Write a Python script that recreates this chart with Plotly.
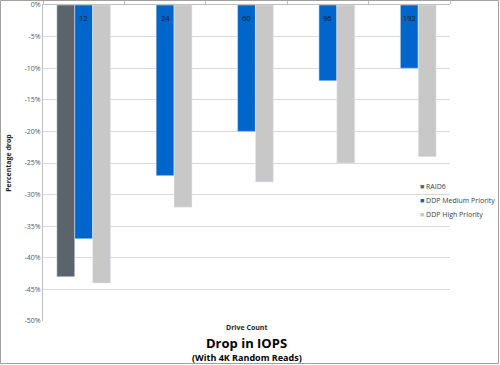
import plotly.graph_objects as go

categories = ["12", "24", "60", "96", "192"]
raid6 = [-43, None, None, None, None]
ddp_medium = [-37, -27, -20, -12, -10]
ddp_high = [-44, -32, -28, -25, -24]
series_names = ["RAID6", "DDP Medium Priority", "DDP High Priority"]
series_colors = ["#5b646b", "#0066cc", "#c8c8c8"]
y_ticks = [0, -5, -10, -15, -20, -25, -30, -35, -40, -45, -50]
y_tick_labels = [f"{v}%" for v in y_ticks]

W, H = 500, 365
ML, MR, MT, MB = 43, 50, 5, 44
PW = W - ML - MR
PH = H - MT - MB

fig = go.Figure()
for name, vals, col in zip(series_names, [raid6, ddp_medium, ddp_high], series_colors):
    fig.add_trace(go.Bar(name=name, x=categories, y=vals, marker_color=col, showlegend=False))

font_family = "Open Sans, Liberation Sans, sans-serif"

fig.update_layout(
    width=W, height=H,
    margin=dict(l=ML, r=MR, t=MT, b=MB, autoexpand=False),
    paper_bgcolor="white", plot_bgcolor="white",
    barmode="group", bargap=0.34, bargroupgap=0,
    font=dict(family=font_family, size=7, color="#404040"),
    showlegend=False,
    xaxis=dict(type="category", range=[-0.5, len(categories) - 0.5],
               side="top", showticklabels=False, tickson="boundaries",
               ticks="outside", ticklen=3, tickcolor="#bfbfbf",
               showline=True, linecolor="#bfbfbf", linewidth=1,
               showgrid=False, automargin=False),
    yaxis=dict(range=[-50, 0], tickvals=y_ticks, ticktext=y_tick_labels,
               tickfont=dict(size=7, color="#595959"),
               showgrid=True, gridcolor="#d9d9d9", gridwidth=1,
               showline=True, linecolor="#bfbfbf", linewidth=1,
               zeroline=False, ticks="", automargin=False,
               title=dict(text="<b>Percentage drop</b>", font=dict(size=7, color="#262626"),
                          standoff=12)),
)

# category labels just below the zero line (category index positions)
for i, c in enumerate(categories):
    fig.add_annotation(text=c, x=i, y=0, xref="x", yref="y", yanchor="top",
                       yshift=-6, showarrow=False, font=dict(size=7.5, color="#1a1a1a"))

# legend built as text
for i, (name, col) in enumerate(zip(series_names, series_colors)):
    fig.add_annotation(text=f"<span style='color:{col}'>■</span> {name}",
                       xref="paper", yref="paper",
                       x=(418 - ML) / PW, y=1 - (186 - MT + 14 * i) / PH,
                       xanchor="left", yanchor="middle", showarrow=False,
                       font=dict(size=7, color="#404040"))

fig.add_annotation(text="<b>Drive Count</b>", xref="paper", yref="paper",
                   x=0.5, y=-(327 - MT - PH) / PH, xanchor="center", yanchor="middle",
                   showarrow=False, font=dict(size=7, color="#262626"))
fig.add_annotation(text="<b>Drop in IOPS</b>", xref="paper", yref="paper",
                   x=0.5, y=-(343 - MT - PH) / PH, xanchor="center", yanchor="middle",
                   showarrow=False, font=dict(size=13, color="#000000"))
fig.add_annotation(text="<b>(With 4K Random Reads)</b>", xref="paper", yref="paper",
                   x=0.5, y=-(357 - MT - PH) / PH, xanchor="center", yanchor="middle",
                   showarrow=False, font=dict(size=9, color="#000000"))

# outer frame
fig.add_shape(type="rect", xref="paper", yref="paper",
              x0=(0.5 - ML) / PW, x1=(W - 1.5 - ML) / PW,
              y0=-(MB - 1.5) / PH, y1=1 + (MT - 0.5) / PH,
              line=dict(color="#a0a0a0", width=1), layer="above")

fig.write_html("out.html", config={"displayModeBar": False},
               post_script="document.body.style.margin='0';document.body.style.overflow='hidden';")
